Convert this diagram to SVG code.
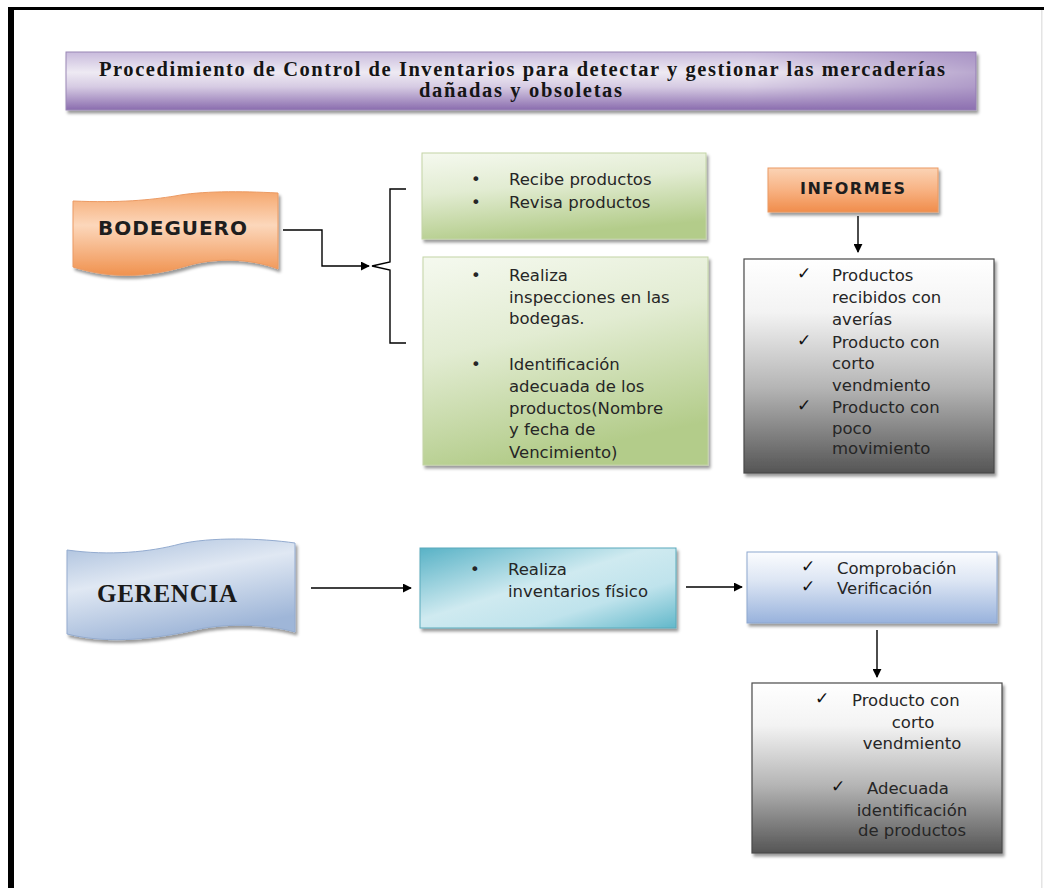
<svg xmlns="http://www.w3.org/2000/svg" width="1044" height="888" viewBox="0 0 1044 888">
  <defs>
    <linearGradient id="gTitle" x1="0" y1="0" x2="0" y2="1">
      <stop offset="0" stop-color="#c8badc"/>
      <stop offset="0.35" stop-color="#eeeaf3"/>
      <stop offset="0.6" stop-color="#d6cbe3"/>
      <stop offset="1" stop-color="#8a6cae"/>
    </linearGradient>
    <linearGradient id="gTitleSide" x1="0" y1="0" x2="1" y2="0">
      <stop offset="0.75" stop-color="#8f73b2" stop-opacity="0"/>
      <stop offset="1" stop-color="#8f73b2" stop-opacity="0.55"/>
    </linearGradient>
    <linearGradient id="gGreen" x1="0" y1="0" x2="0.3" y2="1">
      <stop offset="0" stop-color="#f5f9ef"/>
      <stop offset="0.45" stop-color="#e2ecd2"/>
      <stop offset="1" stop-color="#b3cc8a"/>
    </linearGradient>
    <linearGradient id="gOrange" x1="0" y1="0" x2="0" y2="1">
      <stop offset="0" stop-color="#f5a86f"/>
      <stop offset="0.4" stop-color="#fcd7bb"/>
      <stop offset="1" stop-color="#f0924f"/>
    </linearGradient>
    <linearGradient id="gOrangeBox" x1="0" y1="0" x2="0" y2="1">
      <stop offset="0" stop-color="#fbd3b5"/>
      <stop offset="0.5" stop-color="#f8b283"/>
      <stop offset="1" stop-color="#f08d4c"/>
    </linearGradient>
    <linearGradient id="gGray" x1="0" y1="0" x2="0" y2="1">
      <stop offset="0" stop-color="#ffffff"/>
      <stop offset="0.25" stop-color="#f3f3f3"/>
      <stop offset="0.6" stop-color="#b5b5b5"/>
      <stop offset="1" stop-color="#555555"/>
    </linearGradient>
    <linearGradient id="gBlue" x1="0" y1="0" x2="0" y2="1">
      <stop offset="0" stop-color="#fbfcfe"/>
      <stop offset="0.4" stop-color="#dde6f4"/>
      <stop offset="1" stop-color="#98b2dc"/>
    </linearGradient>
    <linearGradient id="gCyan" x1="0" y1="0" x2="1" y2="1">
      <stop offset="0" stop-color="#58b2c6"/>
      <stop offset="0.45" stop-color="#cfeaf0"/>
      <stop offset="0.7" stop-color="#bfe3ec"/>
      <stop offset="1" stop-color="#62b8ca"/>
    </linearGradient>
    <linearGradient id="gWaveBlue" x1="0" y1="0" x2="0.4" y2="1">
      <stop offset="0" stop-color="#a7bddb"/>
      <stop offset="0.45" stop-color="#e0e8f3"/>
      <stop offset="1" stop-color="#9fb6d8"/>
    </linearGradient>
    <filter id="shadow" x="-10%" y="-10%" width="125%" height="130%">
      <feDropShadow dx="2" dy="3" stdDeviation="1.6" flood-color="#000" flood-opacity="0.4"/>
    </filter>
    <marker id="arrow" viewBox="0 0 10 10" refX="9" refY="5" markerWidth="9" markerHeight="9" markerUnits="userSpaceOnUse" orient="auto">
      <path d="M0,0 L10,5 L0,10 Z" fill="#000"/>
    </marker>
    <style>
      .body { font-family: "DejaVu Sans", "Liberation Sans", sans-serif; font-size: 16.5px; fill: #262626; }
      .mark { font-family: "DejaVu Sans", sans-serif; font-size: 17px; fill: #111; }
      .title { font-family: "Liberation Serif", serif; font-weight: bold; font-size: 20.5px; fill: #151515; }
      .label { font-family: "DejaVu Sans", "Liberation Sans", sans-serif; font-weight: bold; fill: #1e1e1e; }
      .wire { fill: none; stroke: #000; stroke-width: 1.4; }
    </style>
  </defs>

  <rect width="1044" height="888" fill="#ffffff"/>

  <!-- page frame -->
  <g id="frame">
    <rect x="8" y="7" width="6" height="881" fill="#000"/>
    <rect x="8" y="7" width="1036" height="3" fill="#000"/>
    <rect x="1041" y="10" width="1.5" height="878" fill="#e4e4e4"/>
  </g>

  <!-- heading banner -->
  <g id="title">
    <rect x="66" y="52" width="910" height="58" fill="url(#gTitle)" stroke="#9a88b6" stroke-width="1" filter="url(#shadow)"/>
    <rect x="66" y="52" width="910" height="58" fill="url(#gTitleSide)"/>
    <text class="title" x="99" y="76" textLength="846" lengthAdjust="spacing">Procedimiento de Control de Inventarios para detectar y gestionar las mercaderías</text>
    <text class="title" x="419" y="97" textLength="203" lengthAdjust="spacing">dañadas y obsoletas</text>
  </g>

  <!-- connectors -->
  <g id="connectors">
    <polyline class="wire" points="283,230 322,230 322,266 369,266" marker-end="url(#arrow)"/>
    <path class="wire" d="M406,189 L390,189 L390,262 L372,266 L390,270 L390,343 L406,343" stroke-width="1.3"/>
    <line class="wire" x1="858" y1="216" x2="858" y2="252" marker-end="url(#arrow)"/>
    <line class="wire" x1="311" y1="588" x2="411" y2="588" marker-end="url(#arrow)"/>
    <line class="wire" x1="686" y1="587" x2="742" y2="587" marker-end="url(#arrow)"/>
    <line class="wire" x1="877" y1="630" x2="877" y2="677" marker-end="url(#arrow)"/>
  </g>

  <!-- BODEGUERO banner -->
  <g id="bodeguero">
    <path d="M73,201 C120,203 150,200 175,196 C200,191 240,191 278,193 L278,269 C250,258 215,258 190,265 C160,274 120,282 73,267 Z" fill="url(#gOrange)" stroke="#eb9a63" stroke-width="1" filter="url(#shadow)"/>
    <text class="label" x="98" y="235" font-size="20" textLength="149" lengthAdjust="spacing">BODEGUERO</text>
  </g>

  <!-- receiving tasks -->
  <g id="recepcion">
    <rect x="422" y="153" width="284" height="86" fill="url(#gGreen)" stroke="#c3d4a6" stroke-width="1" filter="url(#shadow)"/>
    <text class="body" x="471" y="185">•</text>
    <text class="body" x="509" y="185">Recibe productos</text>
    <text class="body" x="471" y="208">•</text>
    <text class="body" x="509" y="208">Revisa productos</text>
  </g>

  <!-- inspection tasks -->
  <g id="inspeccion">
    <rect x="423" y="257" width="285" height="208" fill="url(#gGreen)" stroke="#c3d4a6" stroke-width="1" filter="url(#shadow)"/>
    <text class="body" x="471" y="281">•</text>
    <text class="body" x="509" y="281">Realiza</text>
    <text class="body" x="509" y="303">inspecciones en las</text>
    <text class="body" x="509" y="324">bodegas.</text>
    <text class="body" x="471" y="370">•</text>
    <text class="body" x="509" y="370">Identificación</text>
    <text class="body" x="509" y="392">adecuada de los</text>
    <text class="body" x="509" y="414">productos(Nombre</text>
    <text class="body" x="509" y="435">y fecha de</text>
    <text class="body" x="509" y="458">Vencimiento)</text>
  </g>

  <!-- INFORMES heading -->
  <g id="informes">
    <rect x="768" y="168" width="170" height="44" fill="url(#gOrangeBox)" stroke="#eb9a63" stroke-width="1" filter="url(#shadow)"/>
    <text class="label" x="800" y="194" font-size="16" textLength="105" lengthAdjust="spacing">INFORMES</text>
  </g>

  <!-- report list -->
  <g id="lista-informes">
    <rect x="744" y="259" width="250" height="214" fill="url(#gGray)" stroke="#4a4a4a" stroke-width="1.2" filter="url(#shadow)"/>
    <text class="mark" x="797" y="279">✓</text>
    <text class="body" x="832" y="281">Productos</text>
    <text class="body" x="832" y="303">recibidos con</text>
    <text class="body" x="832" y="325">averías</text>
    <text class="mark" x="797" y="346">✓</text>
    <text class="body" x="832" y="348">Producto con</text>
    <text class="body" x="832" y="369">corto</text>
    <text class="body" x="832" y="391">vendmiento</text>
    <text class="mark" x="797" y="411">✓</text>
    <text class="body" x="832" y="413">Producto con</text>
    <text class="body" x="832" y="434">poco</text>
    <text class="body" x="832" y="454">movimiento</text>
  </g>

  <!-- GERENCIA banner -->
  <g id="gerencia">
    <path d="M67,550 C110,556 150,552 180,544 C210,537 260,538 295,543 L295,632 C270,625 230,622 195,630 C160,638 110,645 67,634 Z" fill="url(#gWaveBlue)" stroke="#93abcf" stroke-width="1" filter="url(#shadow)"/>
    <text x="97" y="602" font-family="Liberation Serif, serif" font-weight="bold" font-size="25" fill="#1a1a1a" textLength="140" lengthAdjust="spacing">GERENCIA</text>
  </g>

  <!-- physical count -->
  <g id="inventario">
    <rect x="420" y="548" width="256" height="80" fill="url(#gCyan)" stroke="#5aaabb" stroke-width="1" filter="url(#shadow)"/>
    <text class="body" x="470" y="575">•</text>
    <text class="body" x="508" y="575">Realiza</text>
    <text class="body" x="508" y="597">inventarios físico</text>
  </g>

  <!-- checks -->
  <g id="verificacion">
    <rect x="747" y="552" width="250" height="71" fill="url(#gBlue)" stroke="#8ea7cf" stroke-width="1" filter="url(#shadow)"/>
    <text class="mark" x="801" y="572">✓</text>
    <text class="body" x="837" y="574">Comprobación</text>
    <text class="mark" x="801" y="592">✓</text>
    <text class="body" x="837" y="594">Verificación</text>
  </g>

  <!-- findings -->
  <g id="resultados">
    <rect x="752" y="683" width="250" height="170" fill="url(#gGray)" stroke="#4a4a4a" stroke-width="1.2" filter="url(#shadow)"/>
    <text class="mark" x="815" y="704">✓</text>
    <text class="body" x="852" y="706">Producto con</text>
    <text class="body" x="913" y="728" text-anchor="middle">corto</text>
    <text class="body" x="912" y="749" text-anchor="middle">vendmiento</text>
    <text class="mark" x="831" y="792">✓</text>
    <text class="body" x="867" y="794">Adecuada</text>
    <text class="body" x="912" y="816" text-anchor="middle">identificación</text>
    <text class="body" x="912" y="836" text-anchor="middle">de productos</text>
  </g>
</svg>
